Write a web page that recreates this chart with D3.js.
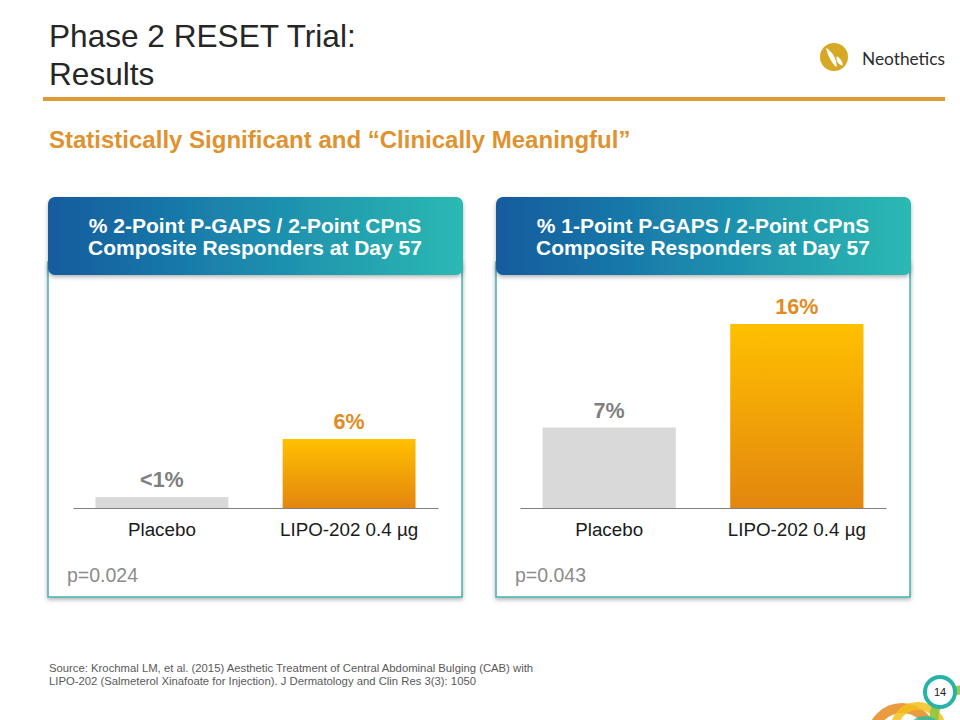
<!DOCTYPE html>
<html>
<head>
<meta charset="utf-8">
<script src="https://cdn.jsdelivr.net/npm/d3@7"></script>
<style>
  html, body { margin: 0; padding: 0; background: #fff; }
  svg { display: block; font-family: "Liberation Sans", Arial, sans-serif; }
</style>
</head>
<body>
<svg id="chart" width="960" height="720"></svg>
<script>
// ---- Data ----
const categories = ["Placebo", "LIPO-202 0.4 µg"];
const values1 = [0.95, 6];
const labels1 = ["<1%", "6%"];
const values2 = [7, 16];
const labels2 = ["7%", "16%"];
const pValues = ["p=0.024", "p=0.043"];
const panelTitles = [
  ["% 2-Point P-GAPS / 2-Point CPnS", "Composite Responders at Day 57"],
  ["% 1-Point P-GAPS / 2-Point CPnS", "Composite Responders at Day 57"]
];
const titleLines = ["Phase 2 RESET Trial:", "Results"];
const subtitle = "Statistically Significant and “Clinically Meaningful”";
const sourceLines = [
  "Source: Krochmal LM, et al. (2015) Aesthetic Treatment of Central Abdominal Bulging (CAB) with",
  "LIPO-202 (Salmeterol Xinafoate for Injection). J Dermatology and Clin Res 3(3): 1050"
];

const svg = d3.select("#chart");
const defs = svg.append("defs");

// gradients
const hg = defs.append("linearGradient").attr("id", "hdrGrad")
  .attr("x1", "0").attr("y1", "0").attr("x2", "1").attr("y2", "0");
hg.append("stop").attr("offset", "0%").attr("stop-color", "#135b9e");
hg.append("stop").attr("offset", "45%").attr("stop-color", "#1b86ad");
hg.append("stop").attr("offset", "100%").attr("stop-color", "#2bb9b2");

const bg = defs.append("linearGradient").attr("id", "barGrad")
  .attr("x1", "0").attr("y1", "0").attr("x2", "0").attr("y2", "1");
bg.append("stop").attr("offset", "0%").attr("stop-color", "#ffc000");
bg.append("stop").attr("offset", "100%").attr("stop-color", "#e3860e");

const sh = defs.append("filter").attr("id", "shadow")
  .attr("x", "-5%").attr("y", "-10%").attr("width", "110%").attr("height", "130%");
sh.append("feDropShadow").attr("dx", 0).attr("dy", 2).attr("stdDeviation", 2)
  .attr("flood-color", "#000").attr("flood-opacity", 0.3);

// ---- Title ----
svg.append("text").attr("x", 49).attr("y", 47)
  .attr("font-size", 31.6).attr("fill", "#262626").text(titleLines[0]);
svg.append("text").attr("x", 49).attr("y", 85)
  .attr("font-size", 31.6).attr("fill", "#262626").text(titleLines[1]);
svg.append("rect").attr("x", 43).attr("y", 97).attr("width", 902).attr("height", 4)
  .attr("fill", "#e09a33");

// logo
svg.append("circle").attr("cx", 834).attr("cy", 57).attr("r", 14).attr("fill", "#d6a824");
svg.append("path").attr("d", "M827,49 C829,56 832,62 836,66 C836,61 834,55 827,49 Z")
  .attr("fill", "#fff").attr("stroke", "#fff").attr("stroke-width", 1.5).attr("stroke-linejoin", "round");
svg.append("path").attr("d", "M837,57 C840,59 842,62 842,65 C839,64 837,61 837,57 Z")
  .attr("fill", "#fff").attr("stroke", "#fff").attr("stroke-width", 1.2).attr("stroke-linejoin", "round");
svg.append("text").attr("x", 862).attr("y", 65).attr("font-family", "Lato, 'Open Sans', sans-serif")
  .attr("font-size", 17.3).attr("fill", "#2b2b2b").text("Neothetics");

// subtitle
svg.append("text").attr("x", 49).attr("y", 148).attr("font-size", 24).attr("font-weight", "bold")
  .attr("fill", "#df922e").text(subtitle);

// ---- Panels ----
const panels = [
  { x: 48, values: values1, labels: labels1, p: pValues[0], title: panelTitles[0], axis: [73, 438] },
  { x: 496, values: values2, labels: labels2, p: pValues[1], title: panelTitles[1], axis: [520, 886] }
];
const panelW = 414;
const y = d3.scaleLinear().domain([0, 20]).range([508, 278]);

panels.forEach(pn => {
  const g = svg.append("g");
  // body
  g.append("rect").attr("x", pn.x).attr("y", 262).attr("width", panelW).attr("height", 335)
    .attr("fill", "#fff").attr("stroke", "#3fb2b6").attr("stroke-width", 1.5)
    .attr("filter", "url(#shadow)");
  // header
  g.append("rect").attr("x", pn.x).attr("y", 197).attr("width", panelW + 1).attr("height", 78)
    .attr("rx", 7).attr("fill", "url(#hdrGrad)").attr("filter", "url(#shadow)");
  pn.title.forEach((t, i) => {
    g.append("text").attr("x", pn.x + panelW / 2).attr("y", 233 + i * 22)
      .attr("text-anchor", "middle").attr("font-size", 21).attr("font-weight", "bold")
      .attr("fill", "#fff").text(t);
  });

  const x = d3.scaleBand().domain(categories).range(pn.axis)
    .paddingInner(0.29).paddingOuter(0.12);

  g.selectAll(".bar").data(pn.values).join("rect")
    .attr("x", (d, i) => x(categories[i]))
    .attr("width", x.bandwidth())
    .attr("y", d => y(d))
    .attr("height", d => y(0) - y(d))
    .attr("fill", (d, i) => i === 0 ? "#d9d9d9" : "url(#barGrad)");

  g.selectAll(".vlab").data(pn.values).join("text")
    .attr("x", (d, i) => x(categories[i]) + x.bandwidth() / 2)
    .attr("y", d => y(d) - 10)
    .attr("text-anchor", "middle").attr("font-size", 21.5).attr("font-weight", "bold")
    .attr("fill", (d, i) => i === 0 ? "#7f7f7f" : "#e38b22")
    .text((d, i) => pn.labels[i]);

  const ax = g.append("g").attr("transform", `translate(0,${y(0)})`)
    .call(d3.axisBottom(x).tickSize(0).tickPadding(15).tickSizeOuter(0));
  ax.select(".domain").attr("stroke", "#808080").attr("stroke-width", 1.2);
  ax.selectAll("text").attr("font-size", 18.8).attr("fill", "#1a1a1a")
    .attr("font-family", "'Liberation Sans', Arial, sans-serif");

  g.append("text").attr("x", pn.x + 19).attr("y", 582).attr("font-size", 19.5)
    .attr("fill", "#8c8c8c").text(pn.p);
});

// ---- Source ----
sourceLines.forEach((t, i) => {
  svg.append("text").attr("x", 49).attr("y", 672 + i * 13).attr("font-size", 11.3)
    .attr("fill", "#595959").text(t);
});

// ---- Decorative corner ----
const deco = svg.append("g");
deco.append("circle").attr("cx", 902).attr("cy", 738).attr("r", 30).attr("fill", "none")
  .attr("stroke", "#e8902a").attr("stroke-width", 10).attr("opacity", 0.9);
deco.append("circle").attr("cx", 918).attr("cy", 730).attr("r", 24).attr("fill", "none")
  .attr("stroke", "#f5c11e").attr("stroke-width", 8).attr("opacity", 0.85);
deco.append("circle").attr("cx", 962).attr("cy", 718).attr("r", 28).attr("fill", "none")
  .attr("stroke", "#8cc63f").attr("stroke-width", 9).attr("opacity", 0.9);
deco.append("circle").attr("cx", 925).attr("cy", 735).attr("r", 16).attr("fill", "none")
  .attr("stroke", "#2bb9a6").attr("stroke-width", 6).attr("opacity", 0.8);
deco.append("circle").attr("cx", 940).attr("cy", 692).attr("r", 15).attr("fill", "#fff")
  .attr("stroke", "#27b3a8").attr("stroke-width", 4);
deco.append("text").attr("x", 940).attr("y", 696).attr("text-anchor", "middle")
  .attr("font-size", 11).attr("fill", "#222").text("14");
</script>
</body>
</html>
